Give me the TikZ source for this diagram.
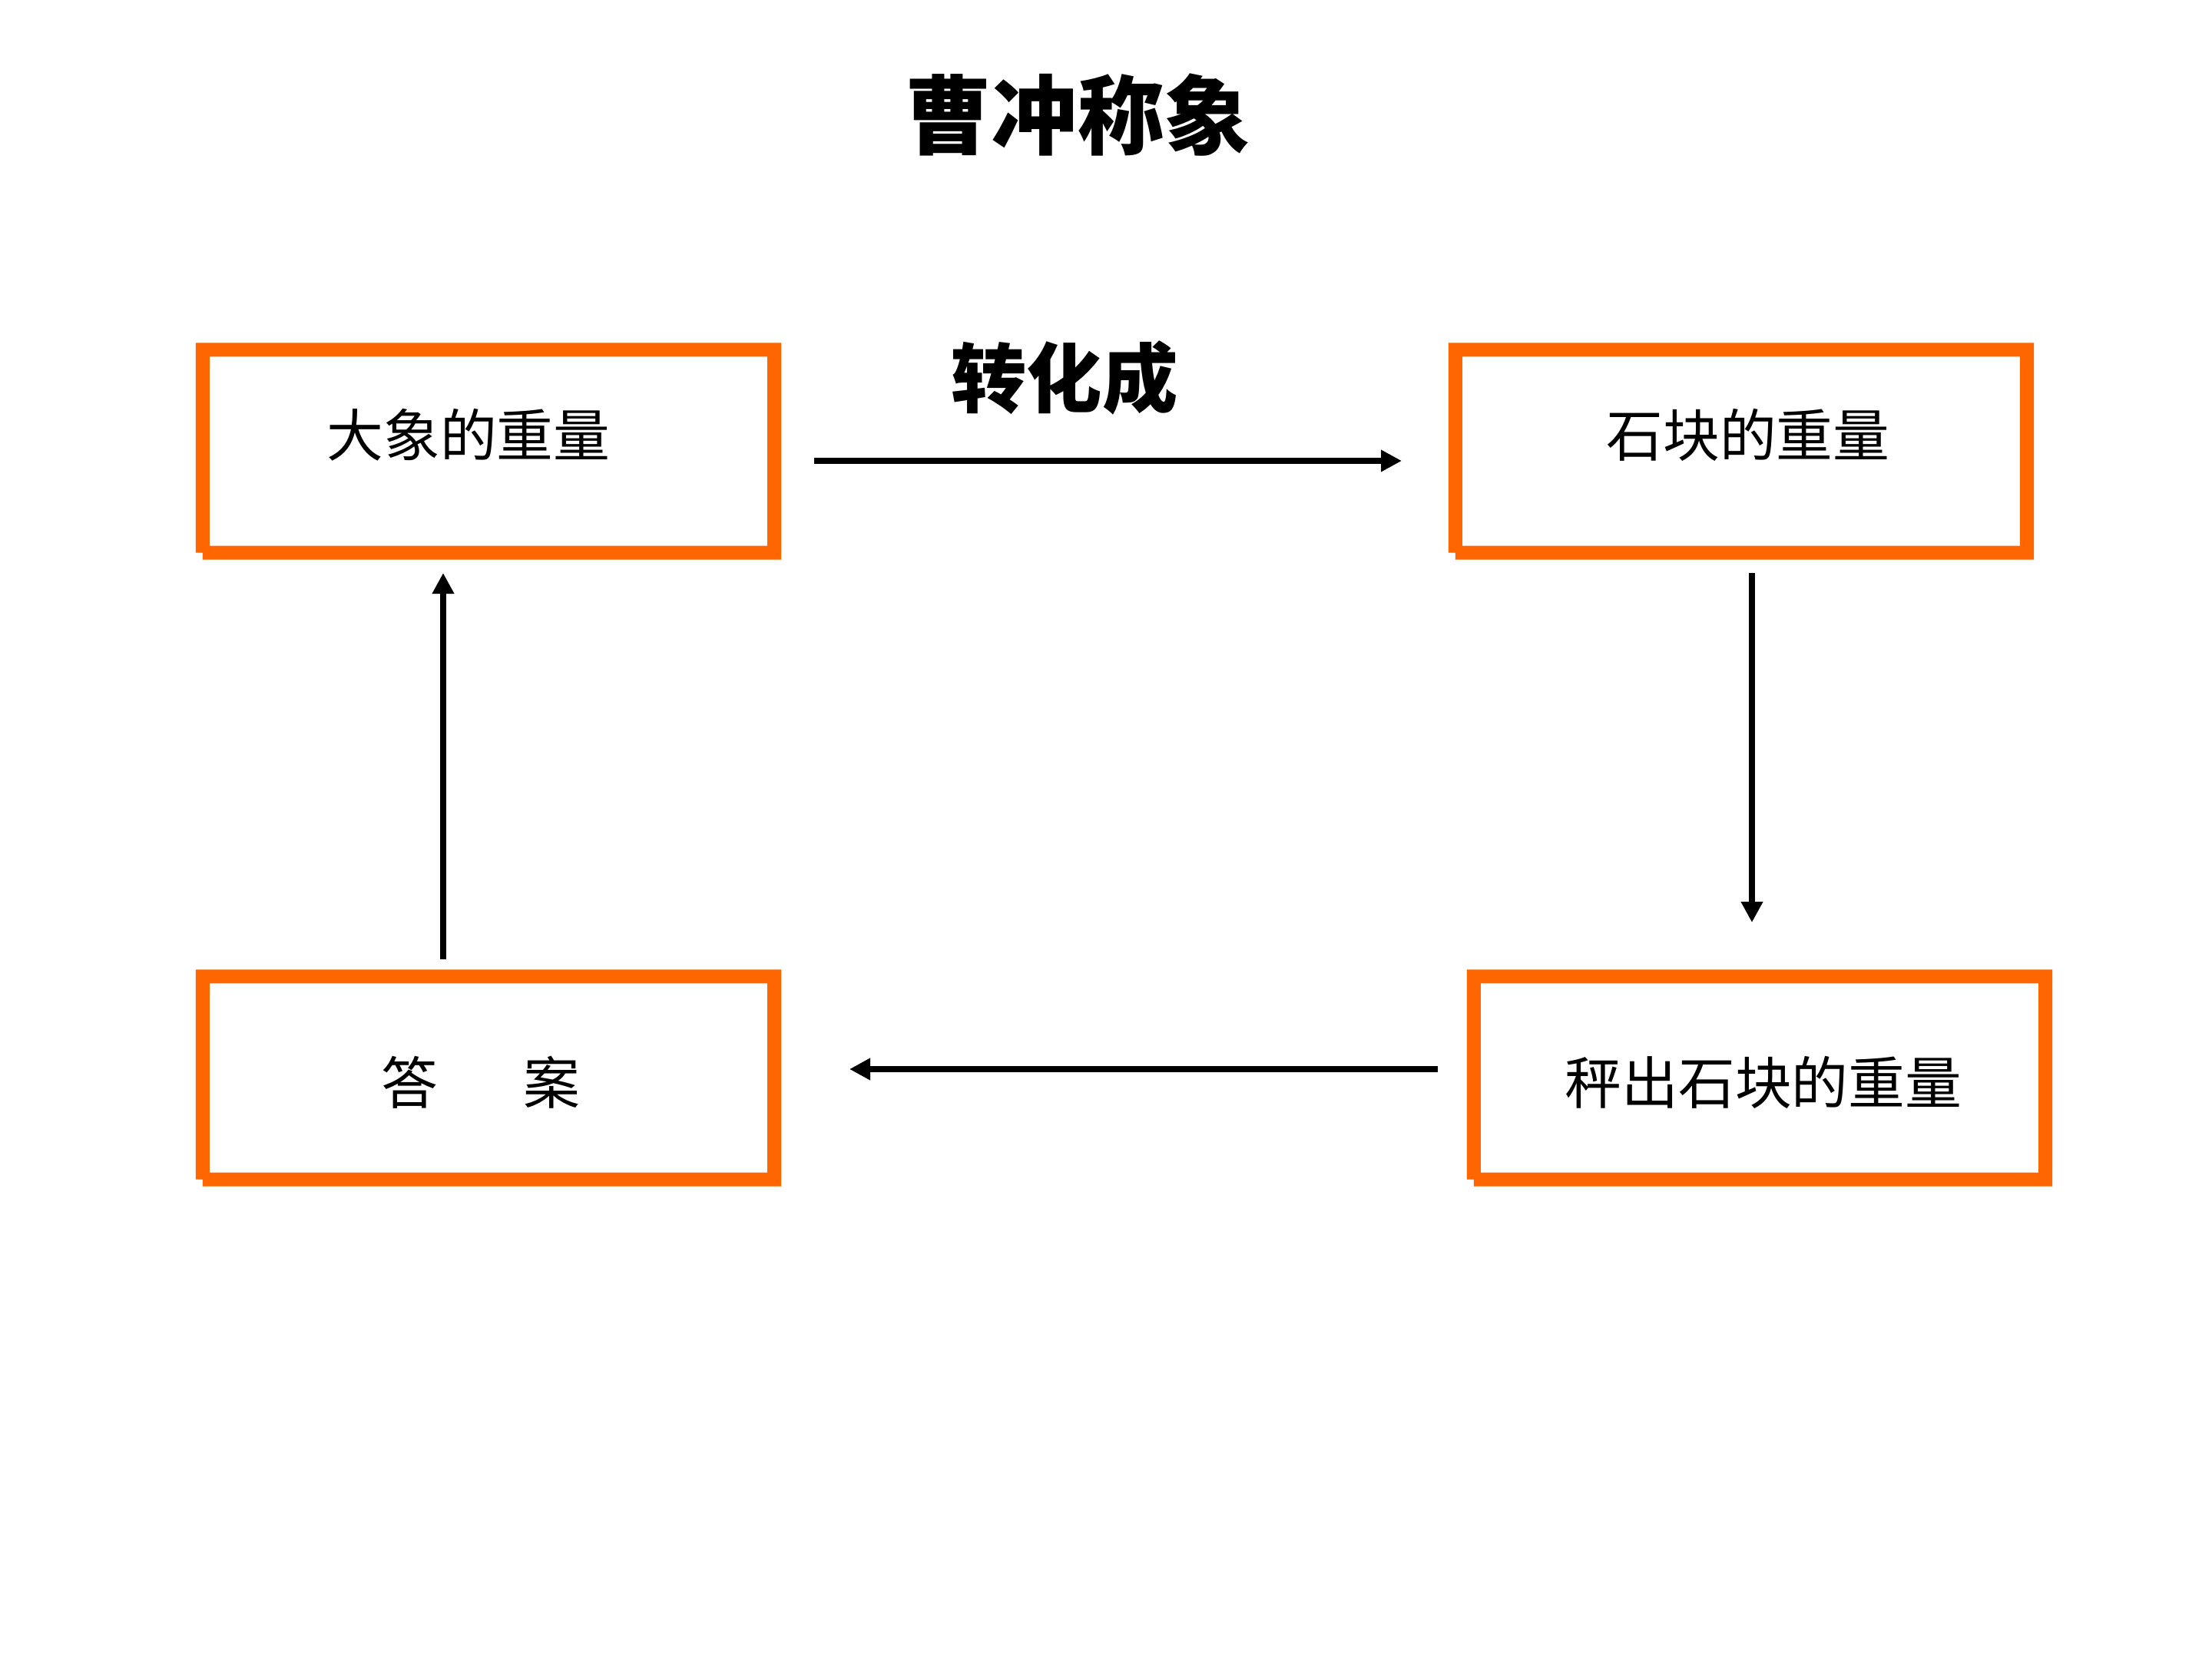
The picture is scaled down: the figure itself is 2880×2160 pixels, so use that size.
\documentclass[tikz,border=0pt]{standalone}
\usepackage{fontspec}
\setmainfont{Noto Sans CJK SC}
\usetikzlibrary{arrows.meta}
\definecolor{frameorange}{RGB}{255,102,0}
\newcommand{\orangeframe}[1]{%
  \fill[frameorange,even odd rule]
    (#1.north west) -- (#1.north east) -- (#1.south east)
    -- ([xshift=0.9mm]#1.south west) -- ([xshift=0.9mm,yshift=0.9mm]#1.south west)
    -- ([yshift=0.9mm]#1.south west) -- cycle
    ([xshift=1.8mm,yshift=-1.8mm]#1.north west) rectangle ([xshift=-1.8mm,yshift=1.8mm]#1.south east);}
\begin{document}
\begin{tikzpicture}[x=0.1mm,y=-0.1mm,
  boxarea/.style={draw=none,inner sep=0pt,minimum width=76.1mm,minimum height=28.1mm},
  boxtext/.style={inner sep=0pt,font=\fontsize{21pt}{25pt}\selectfont},
  titletext/.style={inner sep=0pt,font=\bfseries\fontsize{32pt}{38pt}\selectfont},
  labeltext/.style={inner sep=0pt,font=\bfseries\fontsize{28pt}{34pt}\selectfont},
  flow/.style={line width=0.85mm,-{Triangle[length=2.7mm,width=2.7mm]}}]
\useasboundingbox[fill=white] (0,0) rectangle (2880,2160);
% boxes
\node[boxarea] (b1) at (636,587.5) {};
\node[boxarea] (b2) at (2267,587.5) {};
\node[boxarea] (b3) at (636,1403.5) {};
\node[boxarea] (b4) at (2291,1403.5) {};
\orangeframe{b1}
\orangeframe{b2}
\orangeframe{b3}
\orangeframe{b4}
% texts
\node[titletext] (title) at (1403,150) {曹冲称象};
\node[labeltext] (lab) at (1386,492) {转化成};
\node[boxtext] (t1) at (610,566) {大象的重量};
\node[boxtext] (t2) at (2276,566) {石块的重量};
\node[boxtext] (t3) at (626,1409) {答\hspace{1.5em}案};
\node[boxtext] (t4) at (2296,1409) {秤出石块的重量};
% arrow ends
\coordinate (a1s) at (1060,600);
\coordinate (a1e) at (1825,600);
\coordinate (a2s) at (2281,746);
\coordinate (a2e) at (2281,1201);
\coordinate (a3s) at (1872,1392);
\coordinate (a3e) at (1106,1392);
\coordinate (a4s) at (577,1249);
\coordinate (a4e) at (577,746);
\draw[flow] (a1s) -- (a1e);
\draw[flow] (a2s) -- (a2e);
\draw[flow] (a3s) -- (a3e);
\draw[flow] (a4s) -- (a4e);
\end{tikzpicture}
\end{document}
